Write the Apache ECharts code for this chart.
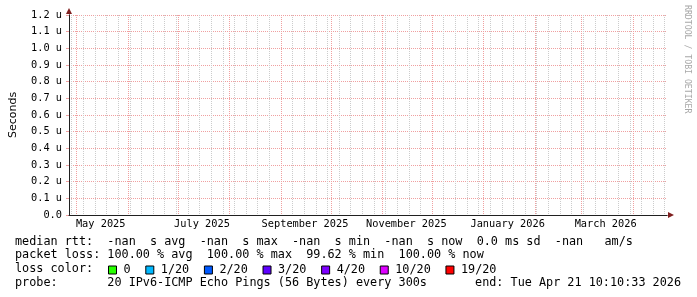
<!DOCTYPE html>
<html>
<head>
<meta charset="utf-8">
<script src="https://cdn.jsdelivr.net/npm/echarts@6/dist/echarts.min.js"></script>
<style>
  html, body { margin: 0; padding: 0; background: #ffffff; }
  #chart { width: 697px; height: 297px; }
</style>
</head>
<body>
<div id="chart"></div>
<script>
// time span: last 360 days up to the end stamp (UTC)
const DAY = 86400000;
const endTime = Date.UTC(2026, 3, 21, 10, 10, 33);
const startTime = endTime - 360 * DAY;

// x tick labels, centred in their month
const monthLabels = ["May 2025", "July 2025", "September 2025", "November 2025", "January 2026", "March 2026"];
const labelDates = ["2025-05-15T12:00:00Z", "2025-07-15T12:00:00Z", "2025-09-15T12:00:00Z",
                    "2025-11-15T12:00:00Z", "2026-01-15T12:00:00Z", "2026-03-15T12:00:00Z"];

// y axis (microseconds)
const yMin = 0;
const yMax = 1.2;
const yStep = 0.1;

// data: every sample is NaN (100% loss) over the whole period
const medianRtt = [];

// loss colour legend
const lossSteps = ["0", "1/20", "2/20", "3/20", "4/20", "10/20", "19/20"];
const lossColors = ["#26ff00", "#00b8ff", "#0059ff", "#5e00ff", "#7e00ff", "#dd00ff", "#ff0000"];

// legend statistics
const statNames = ["avg", "max", "min", "now"];
const rttValues = ["-nan", "-nan", "-nan", "-nan"];
const lossValues = ["100.00", "100.00", "99.62", "100.00"];
const rttSd = "0.0";
const amPerS = "-nan";
const probeText = "20 IPv6-ICMP Echo Pings (56 Bytes) every 300s";
const endText = "end: Tue Apr 21 10:10:33 2026";

// grid positions (mondays for the minor grid, month starts for the major grid)
const weekTicks = [];
let monday = new Date(startTime);
monday.setUTCHours(0, 0, 0, 0);
while (monday.getUTCDay() !== 1) monday = new Date(monday.getTime() + DAY);
for (let t = monday.getTime(); t <= endTime; t += 7 * DAY) {
  if (t > startTime) weekTicks.push(t);
}
const monthTicks = [];
for (let i = 0; i < 13; i++) {
  const t = Date.UTC(2025, 4 + i, 1);
  if (t > startTime && t < endTime) monthTicks.push(t);
}
const labelTicks = labelDates.map((s) => Date.parse(s));

const MONO = "DejaVu Sans Mono";
const LEGEND_SIZE = 11.8;
const AXIS_SIZE = 10.3;
const AXIS_COLOR = "#202020";
const ARROW_COLOR = "#7f1f1f";
const MGRID_COLOR = "#f0a0a0";
const GRID_COLOR = "#cccccc";

const line1 = "median rtt:  " +
  rttValues.map((v, i) => v + "  s " + statNames[i]).join("  ") +
  "  " + rttSd + " ms sd  " + amPerS + "   am/s";
const line2 = "packet loss: " +
  lossValues.map((v, i) => v + " % " + statNames[i]).join("  ");
const line4 = "probe:       " + probeText;

const chart = echarts.init(document.getElementById("chart"));

const legendText = (text, y, extra) => ({
  type: "text",
  x: 15,
  y: y,
  style: Object.assign({
    text: text,
    fontFamily: MONO,
    fontSize: LEGEND_SIZE,
    fill: "#000",
    verticalAlign: "middle",
  }, extra || {}),
});

// rrdtool grid: one pixel on, one pixel off
const dotted = (color) => ({
  show: true,
  lineStyle: { color: color, width: 1, type: [1, 1] },
});

const option = {
  animation: false,
  backgroundColor: "#ffffff",
  grid: { left: 67, right: 30, top: 15, bottom: 82 },
  xAxis: [
    {
      // labels + arrow
      type: "value",
      min: startTime,
      max: endTime,
      position: "bottom",
      axisLine: {
        show: true,
        lineStyle: { color: ARROW_COLOR, width: 1 },
        symbol: ["none", "triangle"],
        symbolSize: [6, 6],
        symbolOffset: [0, 4],
      },
      axisTick: { show: false, customValues: labelTicks },
      axisLabel: {
        customValues: labelTicks,
        margin: 4,
        color: "#000",
        fontFamily: MONO,
        fontSize: AXIS_SIZE,
        formatter: (v) => {
          const i = labelTicks.indexOf(v);
          return i >= 0 ? monthLabels[i] : "";
        },
      },
      splitLine: { show: false },
    },
    {
      // weekly minor grid
      type: "value",
      min: startTime,
      max: endTime,
      position: "bottom",
      axisLine: { show: false },
      axisTick: { show: false, customValues: weekTicks },
      axisLabel: { show: false },
      splitLine: dotted(GRID_COLOR),
    },
    {
      // monthly major grid + black axis line
      type: "value",
      min: startTime,
      max: endTime,
      position: "bottom",
      z: 3,
      axisLine: { show: true, lineStyle: { color: AXIS_COLOR, width: 1 } },
      axisTick: { show: false, customValues: monthTicks },
      axisLabel: { show: false },
      splitLine: dotted(MGRID_COLOR),
    },
  ],
  yAxis: [
    {
      type: "value",
      min: yMin,
      max: yMax,
      interval: yStep,
      position: "left",
      name: "Seconds",
      nameLocation: "middle",
      nameGap: 50,
      nameTextStyle: { fontFamily: "DejaVu Sans", fontSize: 11, color: "#000" },
      axisLine: {
        show: true,
        lineStyle: { color: ARROW_COLOR, width: 1 },
        symbol: ["none", "triangle"],
        symbolSize: [6, 6],
        symbolOffset: [0, 4],
      },
      axisTick: { show: true, length: 3, lineStyle: { color: MGRID_COLOR } },
      axisLabel: {
        margin: 7,
        color: "#000",
        fontFamily: MONO,
        fontSize: AXIS_SIZE,
        formatter: (v) => (v === 0 ? "0.0" : v.toFixed(1) + " u"),
      },
      splitLine: dotted(MGRID_COLOR),
    },
    {
      type: "value",
      min: yMin,
      max: yMax,
      position: "left",
      z: 3,
      axisLine: { show: true, lineStyle: { color: AXIS_COLOR, width: 1 } },
      axisTick: { show: false },
      axisLabel: { show: false },
      splitLine: { show: false },
    },
  ],
  legend: {
    left: 108,
    top: 264,
    padding: 0,
    itemWidth: 8,
    itemHeight: 8,
    itemGap: 14.7,
    icon: "rect",
    selectedMode: false,
    data: lossSteps,
    itemStyle: { borderColor: "#000", borderWidth: 1 },
    textStyle: {
      fontFamily: MONO,
      fontSize: LEGEND_SIZE,
      color: "#000",
      padding: [0, 0, 0, 2],
    },
  },
  series: [
    {
      name: "median rtt",
      type: "line",
      data: medianRtt,
      showSymbol: false,
      lineStyle: { color: "#000" },
    },
  ].concat(lossSteps.map((name, i) => ({
    name: name,
    type: "line",
    data: [],
    showSymbol: false,
    itemStyle: { color: lossColors[i] },
    lineStyle: { color: lossColors[i] },
  }))),
  graphic: [
    legendText(line1, 241.5),
    legendText(line2, 255.2),
    legendText("loss color:", 268.9),
    legendText(line4, 282.6),
    {
      type: "text",
      x: 681,
      y: 282.6,
      style: {
        text: endText,
        fontFamily: MONO,
        fontSize: LEGEND_SIZE,
        fill: "#000",
        align: "right",
        verticalAlign: "middle",
      },
    },
    {
      // rrdtool watermark
      type: "text",
      x: 687,
      y: 5,
      rotation: -Math.PI / 2,
      style: {
        text: "RRDTOOL / TOBI OETIKER",
        fontFamily: MONO,
        fontSize: 8.2,
        fill: "#a8a8a8",
        align: "left",
        verticalAlign: "middle",
      },
    },
  ],
};

chart.setOption(option);
</script>
</body>
</html>
